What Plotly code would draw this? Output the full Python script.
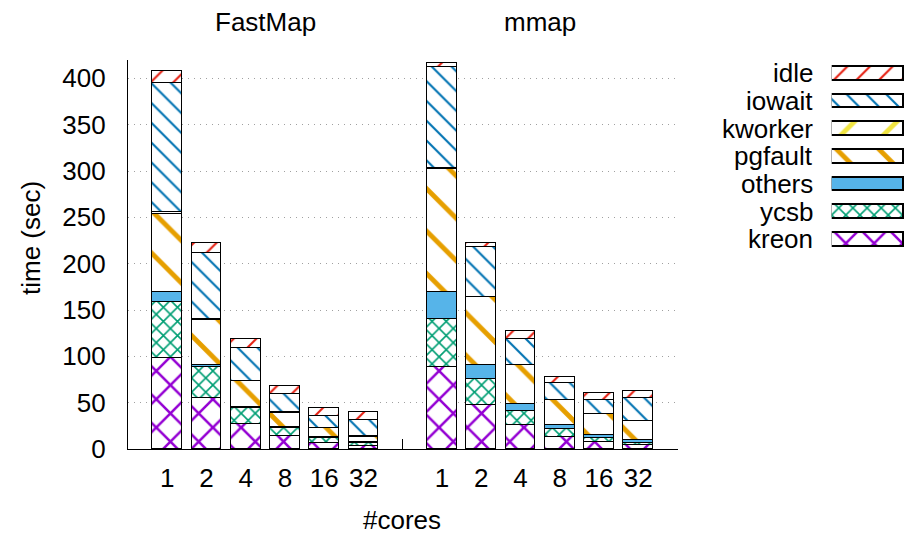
import plotly.graph_objects as go

# ---------------- data ----------------
cores = ["1", "2", "4", "8", "16", "32"]
systems = ["FastMap", "mmap"]
series = ["kreon", "ycsb", "others", "pgfault", "kworker", "iowait", "idle"]

fastmap_kreon   = [98.0, 55.5, 26.7, 14.4, 7.2, 3.6]
fastmap_ycsb    = [61.0, 32.7, 18.3, 9.0, 5.4, 3.6]
fastmap_others  = [11.0, 3.0, 1.0, 0.5, 0.5, 0.8]
fastmap_pgfault = [84.0, 48.7, 27.1, 15.7, 10.0, 5.6]
fastmap_kworker = [1.5, 1.0, 0.5, 0.5, 0.3, 0.8]
fastmap_iowait  = [140.0, 71.0, 36.0, 20.0, 12.6, 16.9]
fastmap_idle    = [13.0, 11.0, 9.6, 8.0, 8.6, 9.0]

mmap_kreon   = [89.0, 47.2, 25.6, 13.6, 7.5, 4.3]
mmap_ycsb    = [51.0, 28.4, 15.1, 8.7, 5.1, 2.9]
mmap_others  = [29.5, 14.8, 8.3, 4.3, 2.5, 2.5]
mmap_pgfault = [132.5, 73.6, 42.0, 26.2, 22.4, 20.2]
mmap_kworker = [1.0, 0.5, 0.4, 0.4, 0.3, 0.3]
mmap_iowait  = [109.5, 53.3, 27.7, 18.1, 15.8, 24.8]
mmap_idle    = [4.0, 5.0, 8.0, 6.5, 6.9, 8.3]

# ---------------- styles ----------------
styles = {
    "kreon":   dict(shape="x",  fg="#9400d3", size=20, sol=0.24),
    "ycsb":    dict(shape="x",  fg="#009e73", size=10, sol=0.3),
    "others":  dict(shape="",   fg="#56b4e9", size=10, sol=1.0),
    "pgfault": dict(shape="\\", fg="#e69f00", size=30, sol=0.16),
    "kworker": dict(shape="/",  fg="#f0e442", size=30, sol=0.16),
    "iowait":  dict(shape="\\", fg="#0072b2", size=14, sol=0.15),
    "idle":    dict(shape="/",  fg="#e51e10", size=16, sol=0.13),
}

data = {
    "kreon": fastmap_kreon + mmap_kreon,
    "ycsb": fastmap_ycsb + mmap_ycsb,
    "others": fastmap_others + mmap_others,
    "pgfault": fastmap_pgfault + mmap_pgfault,
    "kworker": fastmap_kworker + mmap_kworker,
    "iowait": fastmap_iowait + mmap_iowait,
    "idle": fastmap_idle + mmap_idle,
}

W, H = 906, 536
FONT = "Liberation Sans, Arial, sans-serif"
FS = 26

x_pos = list(range(len(cores))) + [len(cores) + 1 + i for i in range(len(cores))]
tick_text = cores + cores


def marker_for(name):
    s = styles[name]
    if s["shape"] == "":
        return dict(color=s["fg"], line=dict(color="black", width=1.3))
    return dict(
        color="white",
        line=dict(color="black", width=1.3),
        pattern=dict(shape=s["shape"], fgcolor=s["fg"], bgcolor="white",
                     fgopacity=1, size=s["size"], solidity=s["sol"],
                     fillmode="overlay"),
    )


fig = go.Figure()
for name in series:
    fig.add_trace(go.Bar(
        x=x_pos, y=data[name], width=0.76, name=name,
        marker=marker_for(name), showlegend=False,
        xaxis="x", yaxis="y",
    ))

# custom legend (swatches on right, text to the left)
legend_order = ["idle", "iowait", "kworker", "pgfault", "others", "ycsb", "kreon"]
for i, name in enumerate(legend_order):
    fig.add_trace(go.Bar(
        x=[1], y=[i], orientation="h", width=0.49,
        marker=marker_for(name), showlegend=False,
        xaxis="x2", yaxis="y2", hoverinfo="skip",
    ))

def px(x):
    return x / W

def py(y):
    return 1 - y / H

fig.update_layout(
    width=W, height=H,
    margin=dict(l=0, r=0, t=0, b=0, autoexpand=False),
    paper_bgcolor="white", plot_bgcolor="white",
    barmode="stack", bargap=0,
    font=dict(family=FONT, size=FS, color="black"),
    xaxis=dict(
        domain=[px(128), px(677.5)], range=[-1, 13], automargin=False,
        tickmode="array", tickvals=x_pos, ticktext=tick_text,
        showline=True, linecolor="black", linewidth=1.3,
        ticks="outside", ticklen=6, tickcolor="rgba(0,0,0,0)",
        showgrid=False, zeroline=False,
        tickfont=dict(family=FONT, size=FS),
        minor=dict(tickmode="array", tickvals=[len(cores)], ticks="inside",
                   ticklen=10, tickcolor="black", tickwidth=1.3, showgrid=False),
    ),
    yaxis=dict(
        domain=[py(449), py(59.8)], range=[0, 420], automargin=False,
        tickvals=[0, 50, 100, 150, 200, 250, 300, 350, 400],
        showline=True, linecolor="black", linewidth=1.3,
        ticks="outside", ticklen=16, tickcolor="rgba(0,0,0,0)",
        showgrid=True, gridcolor="#a0a0a0", gridwidth=1, griddash="1px,5px",
        zeroline=False,
        tickfont=dict(family=FONT, size=FS),
    ),
    xaxis2=dict(domain=[px(831.7), px(904)], range=[0, 1], visible=False,
                anchor="y2", fixedrange=True, automargin=False),
    yaxis2=dict(domain=[py(253.1), py(59.5)], range=[6.5, -0.5], visible=False,
                anchor="x2", fixedrange=True, automargin=False),
)

# legend text
for i, name in enumerate(legend_order):
    fig.add_annotation(
        x=px(815), y=i, xref="paper", yref="y2",
        text=name, showarrow=False, xanchor="right", yanchor="middle",
        font=dict(family=FONT, size=FS),
    )

# group titles
fig.add_annotation(x=(len(cores) - 1) / 2, y=py(22), xref="x", yref="paper",
                   text=systems[0], showarrow=False, yanchor="middle",
                   font=dict(family=FONT, size=FS))
fig.add_annotation(x=len(cores) + 1 + (len(cores) - 1) / 2, y=py(22), xref="x",
                   yref="paper", text=systems[1], showarrow=False,
                   yanchor="middle", font=dict(family=FONT, size=FS))

# axis titles
fig.add_annotation(x=px(31), y=py(238), xref="paper", yref="paper",
                   text="time (sec)", showarrow=False, textangle=-90,
                   xanchor="center", yanchor="middle",
                   font=dict(family=FONT, size=FS))
fig.add_annotation(x=px(402), y=py(520), xref="paper", yref="paper",
                   text="#cores", showarrow=False, xanchor="center",
                   yanchor="middle", font=dict(family=FONT, size=FS))

fig.write_html("out.html")
